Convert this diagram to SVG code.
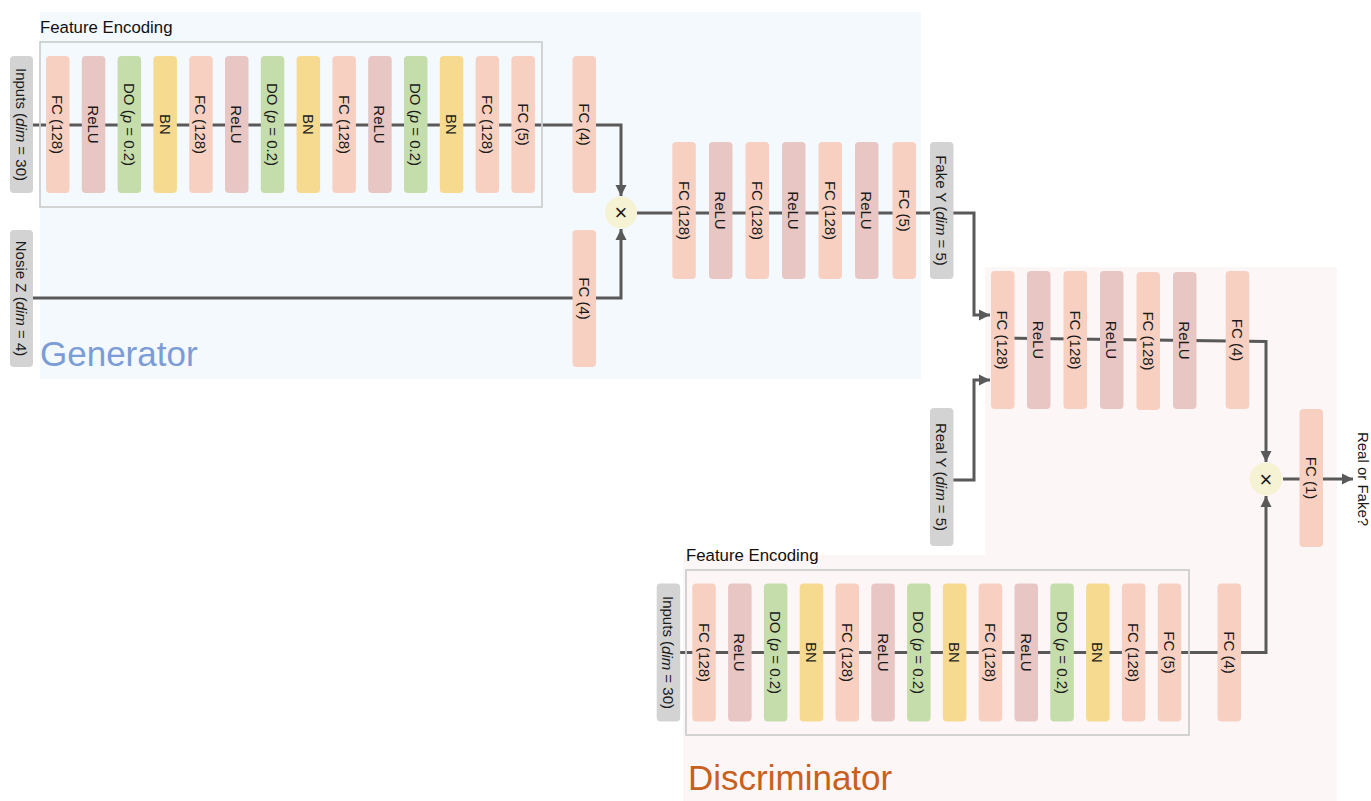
<svg xmlns="http://www.w3.org/2000/svg" width="1371" height="801" viewBox="0 0 1371 801">
<style>
.t{font-family:"Liberation Sans",Arial,sans-serif;font-size:15px;fill:#1a1a1a;text-anchor:middle;dominant-baseline:central}
.x{font-family:"Liberation Sans",Arial,sans-serif;font-size:22px;fill:#1a1a1a;text-anchor:middle;dominant-baseline:central}
.fc{fill:#f8d0c1}
.relu{fill:#e7c6c3}
.do{fill:#c5dcab}
.bn{fill:#f6da8f}
.gray{fill:#d3d3d3}
.mul{fill:#f6f2d4}
.frame{fill:none;stroke:#cfcfcf;stroke-width:1.8}
.c{fill:none;stroke:#595959;stroke-width:3;marker-end:url(#ah)}
.lbl{font-family:"Liberation Sans",Arial,sans-serif;font-size:16.8px;fill:#111}
.big{font-family:"Liberation Sans",Arial,sans-serif;font-size:35px}
</style>
<defs>
<marker id="ah" markerUnits="userSpaceOnUse" markerWidth="12" markerHeight="12" viewBox="0 0 12 12" refX="11" refY="6" orient="auto">
<path d="M0,0.5 L11,6 L0,11.5 Z" fill="#595959"/>
</marker>
</defs>
<rect width="1371" height="801" fill="#ffffff"/>
<g id="generator-bg">
<rect x="40" y="12" width="881" height="367" fill="#f4f9fe"/>
<text class="big" x="40" y="366" fill="#7b9cd6">Generator</text>
</g>
<g id="discriminator-bg">
<path d="M985,267 H1337 V801 H683 V555 H985 Z" fill="#fdf6f6"/>
<text class="big" x="688" y="790" fill="#c95f1c">Discriminator</text>
</g>
<g id="connectors">
<path class="c" d="M33,125 H621 V196"/>
<path class="c" d="M33,298 H621 V229"/>
<path class="c" d="M637,213 H974 V315 H990"/>
<path class="c" d="M953,480 H974 V380 H990"/>
<path class="c" d="M1003,338 L1266,341.5 V462"/>
<path class="c" d="M680,652.5 H1266 V496"/>
<path class="c" d="M1283,479 H1353"/>
</g>
<g id="g-feature-encoding">
<text class="lbl" x="40" y="33">Feature Encoding</text>
<rect class="frame" x="40" y="42" width="502" height="165"/>
</g>
<g id="d-feature-encoding">
<text class="lbl" x="686" y="561">Feature Encoding</text>
<rect class="frame" x="686" y="570" width="503" height="165"/>
</g>
<g id="g-inputs"><rect class="gray" x="10" y="56" width="23" height="137" rx="4"/><text class="t" transform="translate(21.5,124.5) rotate(90)">Inputs (<tspan font-style="italic">dim</tspan> = 30)</text></g>
<g id="g-noise"><rect class="gray" x="10" y="230" width="23" height="137" rx="4"/><text class="t" transform="translate(21.5,298.5) rotate(90)">Nosie Z (<tspan font-style="italic">dim</tspan> = 4)</text></g>
<g id="g-fe1"><rect class="fc" x="46" y="56" width="23.5" height="137" rx="4"/><text class="t" transform="translate(57.75,124.5) rotate(90)">FC (128)</text></g>
<g id="g-fe2"><rect class="relu" x="81.8" y="56" width="23.5" height="137" rx="4"/><text class="t" transform="translate(93.55,124.5) rotate(90)">ReLU</text></g>
<g id="g-fe3"><rect class="do" x="117.6" y="56" width="23.5" height="137" rx="4"/><text class="t" transform="translate(129.35,124.5) rotate(90)">DO (<tspan font-style="italic">p</tspan> = 0.2)</text></g>
<g id="g-fe4"><rect class="bn" x="153.4" y="56" width="23.5" height="137" rx="4"/><text class="t" transform="translate(165.15,124.5) rotate(90)">BN</text></g>
<g id="g-fe5"><rect class="fc" x="189.2" y="56" width="23.5" height="137" rx="4"/><text class="t" transform="translate(200.95,124.5) rotate(90)">FC (128)</text></g>
<g id="g-fe6"><rect class="relu" x="225" y="56" width="23.5" height="137" rx="4"/><text class="t" transform="translate(236.75,124.5) rotate(90)">ReLU</text></g>
<g id="g-fe7"><rect class="do" x="260.8" y="56" width="23.5" height="137" rx="4"/><text class="t" transform="translate(272.55,124.5) rotate(90)">DO (<tspan font-style="italic">p</tspan> = 0.2)</text></g>
<g id="g-fe8"><rect class="bn" x="296.6" y="56" width="23.5" height="137" rx="4"/><text class="t" transform="translate(308.35,124.5) rotate(90)">BN</text></g>
<g id="g-fe9"><rect class="fc" x="332.4" y="56" width="23.5" height="137" rx="4"/><text class="t" transform="translate(344.15,124.5) rotate(90)">FC (128)</text></g>
<g id="g-fe10"><rect class="relu" x="368.2" y="56" width="23.5" height="137" rx="4"/><text class="t" transform="translate(379.95,124.5) rotate(90)">ReLU</text></g>
<g id="g-fe11"><rect class="do" x="404" y="56" width="23.5" height="137" rx="4"/><text class="t" transform="translate(415.75,124.5) rotate(90)">DO (<tspan font-style="italic">p</tspan> = 0.2)</text></g>
<g id="g-fe12"><rect class="bn" x="439.8" y="56" width="23.5" height="137" rx="4"/><text class="t" transform="translate(451.55,124.5) rotate(90)">BN</text></g>
<g id="g-fe13"><rect class="fc" x="475.6" y="56" width="23.5" height="137" rx="4"/><text class="t" transform="translate(487.35,124.5) rotate(90)">FC (128)</text></g>
<g id="g-fe14"><rect class="fc" x="511.4" y="56" width="23.5" height="137" rx="4"/><text class="t" transform="translate(523.15,124.5) rotate(90)">FC (5)</text></g>
<g id="g-fc4a"><rect class="fc" x="572.5" y="56" width="23.5" height="137" rx="4"/><text class="t" transform="translate(584.25,124.5) rotate(90)">FC (4)</text></g>
<g id="g-fc4b"><rect class="fc" x="572.5" y="230" width="23.5" height="137" rx="4"/><text class="t" transform="translate(584.25,298.5) rotate(90)">FC (4)</text></g>
<g id="g-mul"><circle class="mul" cx="621" cy="212.5" r="16"/><text class="x" x="621" y="212.5">×</text></g>
<g id="g-m1"><rect class="fc" x="672.3" y="142" width="23.5" height="137" rx="4"/><text class="t" transform="translate(684.05,210.5) rotate(90)">FC (128)</text></g>
<g id="g-m2"><rect class="relu" x="709" y="142" width="23.5" height="137" rx="4"/><text class="t" transform="translate(720.75,210.5) rotate(90)">ReLU</text></g>
<g id="g-m3"><rect class="fc" x="745.5" y="142" width="23.5" height="137" rx="4"/><text class="t" transform="translate(757.25,210.5) rotate(90)">FC (128)</text></g>
<g id="g-m4"><rect class="relu" x="782" y="142" width="23.5" height="137" rx="4"/><text class="t" transform="translate(793.75,210.5) rotate(90)">ReLU</text></g>
<g id="g-m5"><rect class="fc" x="818.5" y="142" width="23.5" height="137" rx="4"/><text class="t" transform="translate(830.25,210.5) rotate(90)">FC (128)</text></g>
<g id="g-m6"><rect class="relu" x="855" y="142" width="23.5" height="137" rx="4"/><text class="t" transform="translate(866.75,210.5) rotate(90)">ReLU</text></g>
<g id="g-m7"><rect class="fc" x="892.5" y="142" width="23.5" height="137" rx="4"/><text class="t" transform="translate(904.25,210.5) rotate(90)">FC (5)</text></g>
<g id="fake-y"><rect class="gray" x="930" y="142" width="23.5" height="137" rx="4"/><text class="t" transform="translate(941.75,210.5) rotate(90)">Fake Y (<tspan font-style="italic">dim</tspan> = 5)</text></g>
<g id="real-y"><rect class="gray" x="930" y="408" width="23.5" height="138" rx="4"/><text class="t" transform="translate(941.75,477) rotate(90)">Real Y (<tspan font-style="italic">dim</tspan> = 5)</text></g>
<g id="d-t1"><rect class="fc" x="991" y="271" width="23.5" height="138" rx="4"/><text class="t" transform="translate(1002.75,340) rotate(90)">FC (128)</text></g>
<g id="d-t2"><rect class="relu" x="1027" y="271" width="23.5" height="138" rx="4"/><text class="t" transform="translate(1038.75,340) rotate(90)">ReLU</text></g>
<g id="d-t3"><rect class="fc" x="1063.5" y="271" width="23.5" height="138" rx="4"/><text class="t" transform="translate(1075.25,340) rotate(90)">FC (128)</text></g>
<g id="d-t4"><rect class="relu" x="1100" y="271" width="23.5" height="138" rx="4"/><text class="t" transform="translate(1111.75,340) rotate(90)">ReLU</text></g>
<g id="d-t5"><rect class="fc" x="1136.5" y="272" width="23.5" height="138" rx="4"/><text class="t" transform="translate(1148.25,341) rotate(90)">FC (128)</text></g>
<g id="d-t6"><rect class="relu" x="1173" y="272" width="23.5" height="137" rx="4"/><text class="t" transform="translate(1184.75,340.5) rotate(90)">ReLU</text></g>
<g id="d-fc4a"><rect class="fc" x="1225.7" y="271" width="23.5" height="138" rx="4"/><text class="t" transform="translate(1237.45,340) rotate(90)">FC (4)</text></g>
<g id="d-mul"><circle class="mul" cx="1266" cy="479" r="16.5"/><text class="x" x="1266" y="479">×</text></g>
<g id="d-fc1"><rect class="fc" x="1299.5" y="409" width="23.5" height="138" rx="4"/><text class="t" transform="translate(1311.25,478) rotate(90)">FC (1)</text></g>
<g id="d-out"><text class="t" transform="translate(1363,479) rotate(90)">Real or Fake?</text></g>
<g id="d-inputs"><rect class="gray" x="656.7" y="583.5" width="23.5" height="138" rx="4"/><text class="t" transform="translate(668.45,652.5) rotate(90)">Inputs (<tspan font-style="italic">dim</tspan> = 30)</text></g>
<g id="d-fe1"><rect class="fc" x="692.3" y="583.5" width="23.5" height="138" rx="4"/><text class="t" transform="translate(704.05,652.5) rotate(90)">FC (128)</text></g>
<g id="d-fe2"><rect class="relu" x="728.1" y="583.5" width="23.5" height="138" rx="4"/><text class="t" transform="translate(739.85,652.5) rotate(90)">ReLU</text></g>
<g id="d-fe3"><rect class="do" x="763.9" y="583.5" width="23.5" height="138" rx="4"/><text class="t" transform="translate(775.65,652.5) rotate(90)">DO (<tspan font-style="italic">p</tspan> = 0.2)</text></g>
<g id="d-fe4"><rect class="bn" x="799.7" y="583.5" width="23.5" height="138" rx="4"/><text class="t" transform="translate(811.45,652.5) rotate(90)">BN</text></g>
<g id="d-fe5"><rect class="fc" x="835.5" y="583.5" width="23.5" height="138" rx="4"/><text class="t" transform="translate(847.25,652.5) rotate(90)">FC (128)</text></g>
<g id="d-fe6"><rect class="relu" x="871.3" y="583.5" width="23.5" height="138" rx="4"/><text class="t" transform="translate(883.05,652.5) rotate(90)">ReLU</text></g>
<g id="d-fe7"><rect class="do" x="907.1" y="583.5" width="23.5" height="138" rx="4"/><text class="t" transform="translate(918.85,652.5) rotate(90)">DO (<tspan font-style="italic">p</tspan> = 0.2)</text></g>
<g id="d-fe8"><rect class="bn" x="942.9" y="583.5" width="23.5" height="138" rx="4"/><text class="t" transform="translate(954.65,652.5) rotate(90)">BN</text></g>
<g id="d-fe9"><rect class="fc" x="978.7" y="583.5" width="23.5" height="138" rx="4"/><text class="t" transform="translate(990.45,652.5) rotate(90)">FC (128)</text></g>
<g id="d-fe10"><rect class="relu" x="1014.5" y="583.5" width="23.5" height="138" rx="4"/><text class="t" transform="translate(1026.25,652.5) rotate(90)">ReLU</text></g>
<g id="d-fe11"><rect class="do" x="1050.3" y="583.5" width="23.5" height="138" rx="4"/><text class="t" transform="translate(1062.05,652.5) rotate(90)">DO (<tspan font-style="italic">p</tspan> = 0.2)</text></g>
<g id="d-fe12"><rect class="bn" x="1086.1" y="583.5" width="23.5" height="138" rx="4"/><text class="t" transform="translate(1097.85,652.5) rotate(90)">BN</text></g>
<g id="d-fe13"><rect class="fc" x="1121.9" y="583.5" width="23.5" height="138" rx="4"/><text class="t" transform="translate(1133.65,652.5) rotate(90)">FC (128)</text></g>
<g id="d-fe14"><rect class="fc" x="1157.7" y="583.5" width="23.5" height="138" rx="4"/><text class="t" transform="translate(1169.45,652.5) rotate(90)">FC (5)</text></g>
<g id="d-fc4b"><rect class="fc" x="1217.5" y="583.5" width="23.5" height="138" rx="4"/><text class="t" transform="translate(1229.25,652.5) rotate(90)">FC (4)</text></g>
</svg>
